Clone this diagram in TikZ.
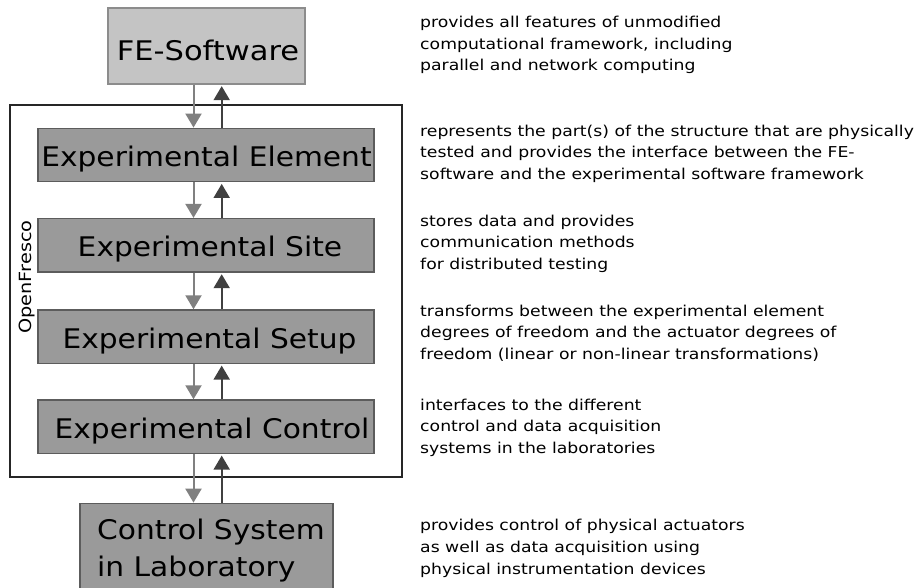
\documentclass[tikz,border=0pt]{standalone}
\usepackage{fontspec}
\setmainfont{DejaVu Sans}
\newfontfamily\widesmall[FakeStretch=1.15]{DejaVu Sans}
\newfontfamily\widebig[FakeStretch=1.1]{DejaVu Sans}
\newfontfamily\widefe[FakeStretch=1.13]{DejaVu Sans}
\usetikzlibrary{arrows.meta}
\definecolor{lightbox}{HTML}{C4C4C4}
\definecolor{lightedge}{HTML}{8C8C8C}
\definecolor{darkbox}{HTML}{9A9A9A}
\definecolor{darkedge}{HTML}{5C5C5C}
\definecolor{downcol}{HTML}{808080}
\definecolor{upcol}{HTML}{404040}
\tikzset{
  bigfont/.style={font=\widebig\fontsize{27}{37}\selectfont},
  smallfont/.style={font=\widesmall\fontsize{15}{21.6}\selectfont},
  febox/.style={draw=lightedge, fill=lightbox, line width=1.3pt, inner sep=0pt, font=\widefe\fontsize{27}{37}\selectfont, text height=29.7pt, text depth=0pt},
  layerbox/.style={draw=darkedge, fill=darkbox, line width=1.3pt, inner sep=0pt, bigfont, text height=22.7pt, text depth=0pt},
  desc/.style={smallfont, align=left, anchor=north west, inner sep=0pt},
  downarrow/.style={draw=downcol, line width=2pt, -{Triangle[width=16pt,length=14pt]}, downcol},
  uparrow/.style={draw=upcol, line width=2pt, -{Triangle[width=16pt,length=14pt]}, upcol, shorten >=1.5pt},
  frame/.style={draw=black!85, line width=1.3pt}
}
\begin{document}
\begin{tikzpicture}[x=1pt,y=-1pt]
\clip (0,0) rectangle (917,588);
\useasboundingbox (0,0) rectangle (917,588);
% OpenFresco frame
\node[frame, minimum width=392pt, minimum height=372pt, inner sep=0pt] (frame) at (206,291) {};
\node[font=\widesmall\fontsize{16.8}{20}\selectfont, rotate=90, inner sep=0pt] (ofl) at (27,277) {OpenFresco};
% boxes
\node[febox, minimum width=197pt, minimum height=76pt] (fe) at (206.5,46) {\hspace*{3pt}FE-Software};
\node[layerbox, minimum width=336pt, minimum height=53.5pt] (elem) at (206,155) {\hspace*{1pt}Experimental Element};
\node[layerbox, minimum width=336pt, minimum height=53.5pt] (site) at (206,245.3) {\hspace*{8pt}Experimental Site};
\node[layerbox, minimum width=336pt, minimum height=53.5pt] (setup) at (206,336.7) {\hspace*{7pt}Experimental Setup};
\node[layerbox, minimum width=336pt, minimum height=53.5pt] (ctrl) at (206,426.7) {\hspace*{12pt}Experimental Control};
\node[draw=darkedge, fill=darkbox, line width=1.3pt, inner sep=0pt, minimum width=253pt, minimum height=100pt] (lab) at (206.5,553.3) {};
\node[bigfont, align=left, anchor=north west, inner sep=0pt] (labtext) at (97,519) {Control System\\in Laboratory};
% arrows
\coordinate (dx) at (193.5,0);
\coordinate (ux) at (221.7,0);
\foreach \a/\b in {fe/elem, elem/site, site/setup, setup/ctrl, ctrl/lab}{
  \draw[downarrow] (\a.south -| dx) -- (\b.north -| dx);
  \draw[uparrow] (\b.north -| ux) -- (\a.south -| ux);
}
% descriptions
\node[desc] (d1) at (420,15.9) {provides all features of unmodified\\computational framework, including\\parallel and network computing};
\node[desc] (d2) at (420,124.6) {represents the part(s) of the structure that are physically\\tested and provides the interface between the FE-\\software and the experimental software framework};
\node[desc] (d3) at (420,214.6) {stores data and provides\\communication methods\\for distributed testing};
\node[desc] (d4) at (420,304.6) {transforms between the experimental element\\degrees of freedom and the actuator degrees of\\freedom (linear or non-linear transformations)};
\node[desc] (d5) at (420,398.6) {interfaces to the different\\control and data acquisition\\systems in the laboratories};
\node[desc] (d6) at (420,519.3) {provides control of physical actuators\\as well as data acquisition using\\physical instrumentation devices};
\end{tikzpicture}
\end{document}
